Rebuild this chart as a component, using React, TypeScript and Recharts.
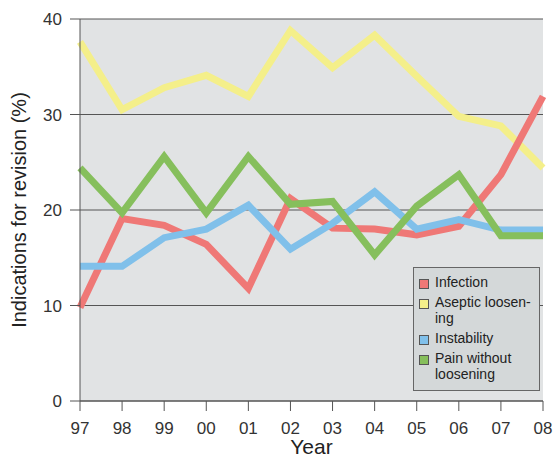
import React from "react";
import { LineChart, Line, XAxis, YAxis, CartesianGrid, Legend } from "recharts";

const YEARS = ["97", "98", "99", "00", "01", "02", "03", "04", "05", "06", "07", "08"];
const INFECTION = [9.8, 19.1, 18.4, 16.4, 11.8, 21.2, 18.1, 18.0, 17.4, 18.3, 23.7, 31.9];
const ASEPTIC = [37.6, 30.5, 32.8, 34.1, 31.9, 38.8, 34.9, 38.3, 34.0, 29.8, 28.8, 24.4];
const INSTABILITY = [14.1, 14.1, 17.1, 18.0, 20.5, 15.9, 18.6, 21.9, 18.0, 19.0, 17.9, 17.9];
const PAIN = [24.4, 19.7, 25.6, 19.7, 25.6, 20.6, 20.9, 15.3, 20.4, 23.7, 17.3, 17.3];
const Y_TICKS = [0, 10, 20, 30, 40];

const SERIES = [
  { key: "aseptic", name: "Aseptic loosen-\ning", color: "#f4ef8a" },
  { key: "infection", name: "Infection", color: "#ef7876" },
  { key: "instability", name: "Instability", color: "#80c0ea" },
  { key: "pain", name: "Pain without\nloosening", color: "#86bf5c" },
];
const LEGEND_ORDER = ["infection", "aseptic", "instability", "pain"];

const data = YEARS.map((year, i) => ({
  year,
  infection: INFECTION[i],
  aseptic: ASEPTIC[i],
  instability: INSTABILITY[i],
  pain: PAIN[i],
}));

const FONT = "'Liberation Sans', Arial, sans-serif";

function LegendBox() {
  return (
    <div
      style={{
        width: 127,
        boxSizing: "border-box",
        background: "#d4d8d9",
        border: "1px solid #666",
        padding: "6px 4px 4px 5px",
        fontFamily: FONT,
        fontSize: 14,
        lineHeight: "16px",
        color: "#222",
      }}
    >
      {LEGEND_ORDER.map((k) => {
        const s = SERIES.find((x) => x.key === k)!;
        return (
          <div key={k} style={{ display: "flex", alignItems: "flex-start", marginBottom: 4 }}>
            <span
              style={{
                width: 8,
                height: 8,
                marginTop: 5,
                marginRight: 6,
                flex: "none",
                background: s.color,
                border: "1px solid #555",
              }}
            />
            <span style={{ whiteSpace: "pre" }}>{s.name}</span>
          </div>
        );
      })}
    </div>
  );
}

export default function App() {
  return (
    <div style={{ position: "absolute", left: 0, top: 0, background: "#fff" }}>
      <LineChart width={553} height={454} data={data} margin={{ top: 19, right: 10, left: 0, bottom: 0 }}>
        <CartesianGrid vertical={false} stroke="#555" fill="#e1e3e4" strokeDasharray="" />
        <XAxis
          dataKey="year"
          height={53}
          stroke="#555"
          tickSize={10}
          tickMargin={11}
          tick={{ fill: "#333", fontSize: 17, fontFamily: FONT }}
          label={{ value: "Year", position: "insideBottom", offset: 0, fill: "#222", fontSize: 21, fontFamily: FONT }}
        />
        <YAxis
          width={80}
          domain={[0, 40]}
          ticks={Y_TICKS}
          stroke="#555"
          tickSize={10}
          tickMargin={8}
          tick={{ fill: "#333", fontSize: 17, fontFamily: FONT }}
          label={{
            value: "Indications for revision (%)",
            angle: -90,
            position: "insideLeft",
            offset: 19,
            style: { textAnchor: "middle" },
            fill: "#222",
            fontSize: 20,
            fontFamily: FONT,
          }}
        />
        <Legend
          layout="vertical"
          align="center"
          verticalAlign="middle"
          wrapperStyle={{ left: 413, top: 267, width: 127 }}
          content={() => <LegendBox />}
        />
        {SERIES.map((s) => (
          <Line
            key={s.key}
            dataKey={s.key}
            name={s.name}
            stroke={s.color}
            strokeWidth={7}
            dot={false}
            type="linear"
            strokeLinejoin="miter"
            isAnimationActive={false}
          />
        ))}
      </LineChart>
    </div>
  );
}
